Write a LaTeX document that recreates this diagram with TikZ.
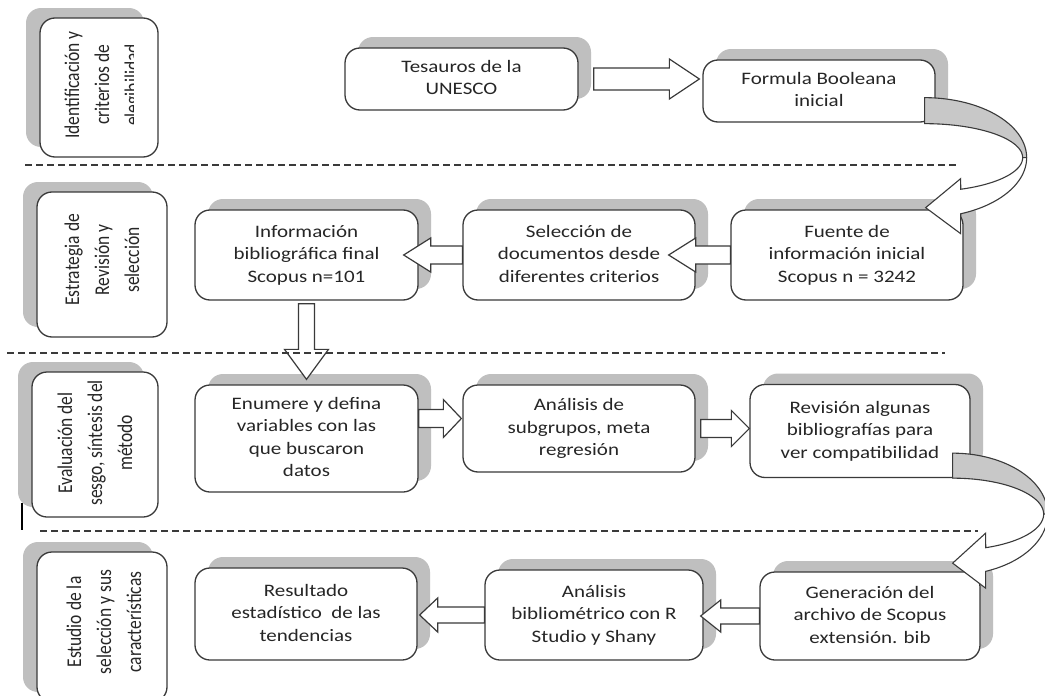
\documentclass[tikz,border=0pt]{standalone}
\usepackage{fontspec}
\usepackage{graphicx}
\setmainfont{Carlito}
\usetikzlibrary{calc,shadows}
\definecolor{shd}{HTML}{BFBFBF}
\definecolor{ln}{HTML}{3A3A3A}
\definecolor{tx}{HTML}{262626}
\definecolor{bandgray}{HTML}{C8C8C8}
\newcommand\hs[1]{\scalebox{1.2}[1]{\begin{tabular}{@{}c@{}}#1\end{tabular}}}
\newcommand\vs[1]{\scalebox{1}[1.2]{\begin{tabular}{@{}c@{}}#1\end{tabular}}}
\newcommand\arrowH[5]{\draw[blk] let \p1=#1, \p2=#2 in
  ({\x1},{\y1+#3}) -- ({\x2-(#5)},{\y1+#3}) -- ({\x2-(#5)},{\y1+#4}) -- ({\x2},{\y1})
  -- ({\x2-(#5)},{\y1-#4}) -- ({\x2-(#5)},{\y1-#3}) -- ({\x1},{\y1-#3}) -- cycle;}
\newcommand\arrowV[5]{\draw[blk] let \p1=#1, \p2=#2 in
  ({\x1+#3},{\y1}) -- ({\x1+#3},{\y2+(#5)}) -- ({\x1+#4},{\y2+(#5)}) -- ({\x1},{\y2})
  -- ({\x1-#4},{\y2+(#5)}) -- ({\x1-#3},{\y2+(#5)}) -- ({\x1-#3},{\y1}) -- cycle;}
\tikzset{
  basebox/.style={draw=ln, line width=1.3pt, rounded corners=15pt, fill=white,
    inner sep=0pt, text=tx},
  box/.style={basebox, general shadow={fill=shd, shadow xshift=13pt, shadow yshift=11pt},
    font=\fontsize{17.5}{22.5}\selectfont},
  labbox/.style={basebox, general shadow={fill=shd, shadow xshift=-14pt, shadow yshift=10pt}},
  labtext/.style={rotate=90, inner sep=0pt, text=tx, font=\fontsize{17.5}{25}\selectfont},
  blk/.style={draw=ln, line width=1.2pt, fill=white, line join=miter},
  bandback/.style={draw=ln, line width=1.1pt, fill=bandgray},
  bandfront/.style={draw=ln, line width=1.1pt, fill=white},
  sep/.style={draw=ln, line width=1.1pt, dash pattern=on 7pt off 4pt}
}
\begin{document}
\begin{tikzpicture}[x=1pt,y=-1pt]
\useasboundingbox (0,0) rectangle (1045,696);
\fill[white] (0,0) rectangle (1045,696);

% ---------- phase labels ----------
\node[labbox, minimum width=118pt, minimum height=139pt] (l1) at (99,87.5) {};
\begin{scope}
  \clip (40,18) rectangle (133,157);
  \node[labtext] (l1t) at (103,85) {\vs{Identificación y\\criterios de\\elegibilidad}};
\end{scope}
\node[labbox, minimum width=130pt, minimum height=145pt] (l2) at (102,264.5) {};
\node[labtext] (l2t) at (103,260) {\vs{Estrategia de\\Revisión y\\selección}};
\node[labbox, minimum width=126pt, minimum height=145pt] (l3) at (95,444.5) {};
\node[labtext] (l3t) at (96,443) {\vs{Evaluación del\\sesgo, síntesis del\\método}};
\node[labbox, minimum width=130pt, minimum height=150pt] (l4) at (102,627) {};
\node[labtext] (l4t) at (105,622) {\vs{Estudio de la\\selección y sus\\características}};

% ---------- process boxes ----------
\node[box, minimum width=233pt, minimum height=62pt] (tes) at (461.5,79) {\hs{Tesauros de la\\UNESCO}};
\node[box, minimum width=232pt, minimum height=62pt] (form) at (819,91) {\hs{Formula Booleana\\inicial}};

\node[box, minimum width=232pt, minimum height=90pt] (fue) at (847,255) {\hs{Fuente de\\información inicial\\Scopus n = 3242}};
\node[box, minimum width=232pt, minimum height=90pt] (sel) at (579,255) {\hs{Selección de\\documentos desde\\diferentes criterios}};
\node[box, minimum width=223pt, minimum height=90pt] (info) at (306.5,255) {\hs{Información\\bibliográfica final\\Scopus n=101}};

\node[box, minimum width=223pt, minimum height=107pt] (enum) at (306.5,438.5) {\hs{Enumere y defina\\variables con las\\que buscaron\\datos}};
\node[box, minimum width=232pt, minimum height=87pt] (anal) at (579,428.5) {\hs{Análisis de\\subgrupos, meta\\regresión}};
\node[box, minimum width=220pt, minimum height=93pt] (rev) at (860,431) {\hs{Revisión algunas\\bibliografías para\\ver compatibilidad}};

\node[box, minimum width=222pt, minimum height=92pt] (res) at (306,614) {\hs{Resultado\\estadístico~ de las\\tendencias}};
\node[box, minimum width=218pt, minimum height=90pt] (bib) at (594,615) {\hs{Análisis\\bibliométrico con R\\Studio y Shany}};
\node[box, minimum width=220pt, minimum height=88pt] (gen) at (870,616) {\hs{Generación del\\archivo de Scopus\\extensión. bib}};

% ---------- block arrows ----------
\arrowH{($(tes.east)+(15,0)$)}{($(form.west)+(-3,0)$)}{11pt}{20pt}{30pt}
\arrowH{(fue.west)}{($(sel.east)+(-27,0)$)}{9pt}{17pt}{-27pt}
\arrowH{(sel.west)}{($(info.east)+(-15,0)$)}{9pt}{17pt}{-27pt}
\arrowV{($(info.south)+(0,3)$)}{($(enum.north)+(0,-5)$)}{8pt}{22pt}{30pt}
\arrowH{($(enum.east)+(0,-20)$)}{($(anal.west)+(-1,0)$)}{9pt}{19pt}{18pt}
\arrowH{($(anal.east)+(5,0)$)}{($(rev.west)+(0,0)$)}{9pt}{18pt}{18pt}
\arrowH{(gen.west)}{($(bib.east)+(-3,0)$)}{8pt}{16pt}{-20pt}
\arrowH{(bib.west)}{($(res.east)+(2,0)$)}{8pt}{17pt}{-18pt}

% ---------- curved arrows ----------
\coordinate (c1) at ($(form.south east)+(-11,35)$);
\begin{scope}[shift={(c1)}]
  \draw[bandback] plot[domain=-90:0, samples=40, variable=\t] ({102*cos(\t)},{60*sin(\t)})
    -- plot[domain=0:-90, samples=40, variable=\t] ({98*cos(\t)},{34*sin(\t)}) -- cycle;
  \draw[bandfront] plot[domain=0:68.4, samples=40, variable=\t] ({98*cos(\t)},{34*sin(\t)})
    -- (36,21) -- (1,50) -- (36,76)
    -- plot[domain=69.3:0, samples=40, variable=\t] ({102*cos(\t)},{60*sin(\t)}) -- cycle;
\end{scope}
\coordinate (c2) at ($(rev.south east)+(-18,36)$);
\begin{scope}[shift={(c2)}]
  \draw[bandback] plot[domain=-90:0, samples=40, variable=\t] ({95*cos(\t)},{61*sin(\t)})
    -- plot[domain=0:-90, samples=40, variable=\t] ({91*cos(\t)},{36*sin(\t)}) -- cycle;
  \draw[bandfront] plot[domain=0:68.7, samples=40, variable=\t] ({91*cos(\t)},{36*sin(\t)})
    -- (33,19) -- (0,49) -- (33,74)
    -- plot[domain=69.7:0, samples=40, variable=\t] ({95*cos(\t)},{61*sin(\t)}) -- cycle;
\end{scope}

% ---------- separators ----------
\draw[sep] (25,165) -- (958,165);
\draw[sep] (7,353) -- (945,353);
\draw[sep] (40,531) -- (978,531);
\draw[black, line width=1.5pt] (22,503) -- (22,530);
\end{tikzpicture}
\end{document}
